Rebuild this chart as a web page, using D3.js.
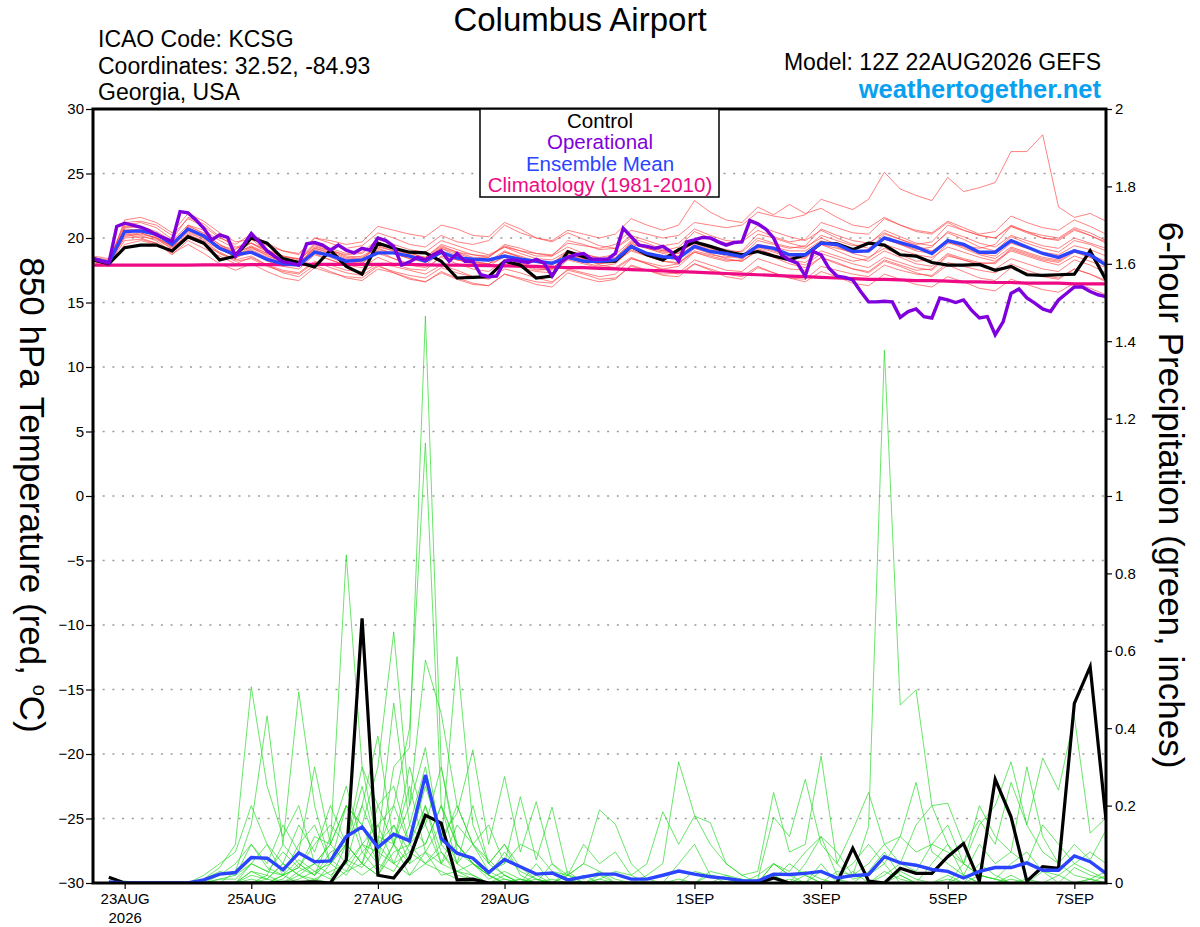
<!DOCTYPE html>
<html>
<head>
<meta charset="utf-8">
<script src="https://cdn.jsdelivr.net/npm/d3@7"></script>
<style>
body { margin: 0; background: #fff; }
text { font-family: "Liberation Sans", Arial, Helvetica, sans-serif; }
</style>
</head>
<body>
<div id="chart"></div>
<script>
// run start and time steps
var runStart = Date.UTC(2026, 7, 22, 12);
var step6 = 6 * 3600 * 1000;
var step3 = 3 * 3600 * 1000;

var dateTicks = [Date.UTC(2026,7,23), Date.UTC(2026,7,25), Date.UTC(2026,7,27), Date.UTC(2026,7,29),
                 Date.UTC(2026,8,1), Date.UTC(2026,8,3), Date.UTC(2026,8,5), Date.UTC(2026,8,7)];
var tempTicks = [-30, -25, -20, -15, -10, -5, 0, 5, 10, 15, 20, 25, 30];
var gridTicks = [-25, -20, -15, -10, -5, 0, 5, 10, 15, 20, 25];
var precipTicks = [0, 0.2, 0.4, 0.6, 0.8, 1, 1.2, 1.4, 1.6, 1.8, 2];

// 850 hPa temperature, 6-hourly from 12Z 22AUG
var controlTemp = [18.3,18.0,19.25,19.45,19.45,19.0,20.1,19.6,18.3,18.6,
  20.0,19.6,18.4,18.1,17.75,19.05,17.8,17.2,19.6,19.2,
  18.9,18.85,18.2,16.9,16.95,17.0,18.2,17.9,16.9,17.05,
  18.95,18.55,18.2,18.2,19.35,18.7,18.3,19.1,19.7,19.35,
  18.95,18.7,18.95,18.6,18.3,18.7,19.6,19.55,19.1,19.6,
  19.45,18.7,18.6,18.1,17.9,17.9,17.95,17.5,17.8,17.15,
  17.1,17.15,17.2,19.0,16.75];

var meanTemp = [18.4,18.1,20.5,20.55,20.3,19.5,20.7,20.15,19.2,18.7,
  18.9,18.35,18.0,17.9,18.9,18.65,18.2,18.3,18.85,18.85,
  18.6,18.2,18.9,18.45,18.35,18.3,18.6,18.35,18.2,18.05,
  18.5,18.2,18.2,18.3,19.35,18.8,18.55,18.45,19.35,18.95,
  18.8,18.55,19.4,19.2,18.7,18.7,19.6,19.5,18.95,19.0,
  20.0,19.65,19.3,18.8,19.8,19.5,18.9,18.9,19.8,19.3,
  18.8,18.5,19.0,18.7,17.9];

var climTemp = [17.9,17.9,17.9,17.9,17.9,17.9,17.9,17.92,17.92,17.92,
  17.94,17.94,17.94,17.95,17.95,17.95,17.95,17.95,17.95,17.95,
  17.95,17.92,17.9,17.9,17.88,17.86,17.84,17.82,17.8,17.75,
  17.7,17.7,17.65,17.6,17.55,17.5,17.45,17.4,17.35,17.3,
  17.25,17.2,17.15,17.1,17.05,17.0,16.95,16.9,16.85,16.8,
  16.8,16.75,16.7,16.7,16.65,16.6,16.6,16.55,16.55,16.5,
  16.5,16.5,16.45,16.45,16.45];

// operational run, 3-hourly
var operTemp = [18.4,18.2,18.05,20.9,21.15,21.0,20.85,20.6,20.25,20.0,
  19.75,22.05,21.95,21.4,20.75,19.85,20.25,20.05,18.6,19.45,
  20.35,19.7,19.0,18.55,18.15,18.05,17.9,19.55,19.65,19.45,
  19.05,19.45,19.05,18.85,19.2,19.05,20.0,19.8,19.35,17.9,
  18.15,18.5,18.3,18.7,19.0,18.2,18.8,18.2,18.2,17.15,
  17.0,17.05,18.2,18.3,18.2,18.1,18.35,18.05,17.05,18.05,
  18.5,18.7,18.8,18.35,18.35,18.35,18.8,20.75,20.1,19.45,
  19.35,19.2,19.35,18.95,18.2,19.7,19.85,20.05,20.0,19.7,
  19.45,19.65,19.7,21.35,21.1,20.7,20.0,18.7,18.3,18.05,
  17.05,18.95,18.7,17.65,17.05,16.95,16.75,15.85,15.05,15.05,
  15.1,15.05,13.85,14.3,14.5,13.9,13.8,15.35,15.2,15.0,
  15.2,14.4,13.8,13.9,12.5,13.5,15.7,16.05,15.35,14.95,
  14.5,14.3,15.2,15.7,16.2,16.2,15.85,15.6,15.45];

// ensemble members, 850 hPa temperature
var tempMembers = [
  [18.3,18.0,20.8,20.9,20.5,19.8,21.0,20.3,19.5,18.9,19.3,18.6,18.2,18.0,19.2,18.9,18.4,18.6,19.3,19.0,18.8,18.5,19.4,18.9,18.7,18.6,19.3,19.0,18.8,18.7,19.6,19.4,19.2,19.5,20.6,20.3,20.0,20.2,21.2,21.0,20.8,21.0,22.0,21.7,21.5,21.8,23.0,22.6,22.2,23.0,25.1,23.8,23.3,22.9,24.7,23.6,23.9,24.3,26.7,26.7,28.0,22.4,21.6,21.9,21.3],
  [18.5,18.2,21.2,21.3,21.0,20.2,21.5,20.9,20.0,19.5,20.3,19.6,19.0,18.7,20.0,19.6,19.2,19.4,20.4,20.0,19.5,19.3,20.2,19.7,19.5,19.8,21.0,20.4,20.0,19.8,20.6,20.3,20.0,20.3,21.5,21.0,20.6,21.0,22.9,22.0,21.4,21.2,22.4,21.8,22.6,21.9,22.3,21.6,21.0,20.8,21.6,21.0,20.5,20.3,21.2,20.6,20.2,20.0,21.0,20.5,20.2,20.0,20.8,20.4,19.8],
  [18.2,17.9,19.8,19.9,19.6,19.0,20.0,19.5,18.8,18.2,18.4,17.8,17.4,17.2,18.1,17.9,17.5,17.4,18.0,17.8,17.5,17.2,17.9,17.5,17.0,16.8,17.6,17.3,16.9,16.6,17.5,17.2,16.8,16.9,17.8,17.5,17.1,17.0,18.0,17.6,17.2,17.0,17.8,17.3,16.9,16.6,17.4,17.0,16.5,16.3,17.2,16.8,16.4,16.2,17.0,16.6,16.1,15.9,16.8,16.4,16.0,15.8,16.5,16.1,15.6],
  [18.4,18.0,21.4,21.6,21.2,20.4,21.9,21.3,20.4,19.7,19.9,19.0,18.6,18.3,19.5,19.1,18.6,18.5,19.2,18.8,18.4,18.1,18.8,18.3,18.1,18.0,18.9,18.6,18.2,18.0,19.0,18.7,18.5,18.7,19.8,19.3,19.0,18.8,19.7,19.4,19.1,18.9,20.0,19.6,19.3,19.2,20.2,19.8,19.4,19.5,20.6,20.1,19.6,19.4,20.4,19.9,19.3,19.0,20.1,19.6,19.2,18.9,19.8,19.5,19.0],
  [18.3,18.1,20.0,20.1,19.9,19.2,20.3,19.7,18.9,18.3,18.6,17.9,17.3,17.0,17.9,17.4,16.9,16.7,17.6,17.3,16.9,16.6,17.4,16.9,16.5,16.3,17.2,16.8,16.4,16.2,17.3,16.9,16.6,16.8,17.9,17.5,17.2,17.3,18.3,17.9,17.5,17.4,18.4,18.0,17.6,17.5,18.5,18.1,17.6,17.3,18.2,17.8,17.3,17.0,17.9,17.4,16.9,16.7,17.7,17.3,17.0,16.8,17.6,17.2,16.7],
  [18.5,18.3,20.7,20.6,20.1,19.3,20.2,19.8,19.1,18.6,19.3,18.8,18.3,18.0,19.0,18.5,18.0,18.2,19.6,19.2,18.9,18.4,19.2,18.6,18.2,18.0,18.5,18.0,17.6,17.5,18.4,18.1,17.8,18.0,19.1,18.6,18.2,18.0,19.0,18.7,18.5,18.6,19.8,19.5,19.2,19.4,20.7,20.2,19.8,19.6,20.4,19.9,19.4,19.0,19.8,19.3,18.8,18.6,19.6,19.2,18.9,18.7,19.4,19.1,18.6],
  [18.2,18.0,20.2,20.4,20.0,19.1,21.0,20.6,19.8,19.2,19.6,19.0,18.5,18.4,19.6,19.2,18.8,18.9,19.9,19.5,19.1,18.9,19.8,19.4,19.0,18.7,19.3,18.8,18.4,18.3,19.0,18.6,18.3,18.2,19.0,18.6,18.2,18.1,18.9,18.5,18.2,18.3,19.5,19.3,19.0,19.0,19.8,19.3,18.8,18.5,19.2,18.7,18.2,18.3,19.6,19.4,19.2,19.5,20.9,20.5,20.0,19.8,20.6,20.2,19.7],
  [18.1,17.8,19.5,19.8,19.5,18.8,19.5,18.8,18.0,17.5,18.0,17.4,16.9,16.7,17.7,17.3,17.0,16.9,17.8,17.4,17.1,16.9,17.7,17.3,17.0,17.0,18.0,17.7,17.4,17.3,18.3,18.0,17.7,17.6,18.4,18.0,17.6,17.8,18.9,18.6,18.3,18.2,19.1,18.7,18.3,18.1,19.0,18.6,18.2,18.4,19.5,19.1,18.7,18.5,19.3,18.9,18.5,18.2,19.0,18.6,18.2,17.9,18.6,18.2,17.7],
  [18.4,18.2,20.4,20.6,20.3,19.6,20.5,20.0,19.4,19.1,19.9,19.4,19.0,18.8,20.0,19.8,19.5,19.7,20.9,20.6,20.3,20.1,21.0,20.7,20.2,20.1,21.2,20.7,20.0,19.7,20.4,19.9,19.4,19.2,20.0,19.6,19.1,18.9,19.6,19.2,18.8,18.5,19.3,18.9,18.5,18.4,19.5,19.2,18.9,19.1,20.3,19.9,19.5,19.7,21.0,20.6,20.2,20.0,20.9,20.4,20.0,19.9,20.7,20.2,19.6],
  [18.3,18.1,20.9,20.8,20.2,19.5,20.6,20.1,19.2,18.5,18.9,18.2,17.8,17.6,18.7,18.3,17.9,17.7,18.5,18.0,17.6,17.5,18.6,18.3,18.0,17.8,18.6,18.1,17.7,17.6,18.7,18.4,18.0,18.1,19.2,18.8,18.5,18.3,19.4,19.0,18.6,18.4,19.2,18.7,18.2,17.9,18.8,18.4,18.0,17.7,18.5,18.1,17.7,17.5,18.6,18.3,17.9,17.6,18.4,18.0,17.6,17.4,18.3,17.9,17.3],
  [18.6,18.4,21.0,21.2,20.8,19.9,21.6,21.1,20.1,19.3,19.6,18.9,18.4,18.2,19.4,19.0,18.5,18.3,19.0,18.4,17.9,17.7,18.5,18.0,17.6,17.4,18.3,17.9,17.5,17.6,18.8,18.5,18.2,18.4,19.7,19.4,19.0,19.3,20.5,20.0,19.6,19.8,21.0,20.5,20.1,19.8,20.6,20.0,19.5,19.2,20.0,19.5,19.0,18.8,19.7,19.2,18.7,18.4,19.3,18.9,18.5,18.3,19.1,18.7,18.2],
  [18.2,17.9,20.1,20.3,20.0,19.4,20.4,19.9,19.3,18.9,19.6,19.1,18.6,18.4,19.2,18.8,18.3,18.1,18.8,18.4,18.0,17.9,18.9,18.5,18.1,18.0,18.9,18.5,18.1,18.0,18.9,18.4,17.9,17.7,18.5,18.0,17.5,17.2,18.0,17.5,17.0,16.8,17.7,17.3,16.9,16.8,17.8,17.5,17.2,17.0,17.9,17.5,17.2,17.1,18.1,17.8,17.5,17.3,18.0,17.5,17.1,16.9,17.6,17.2,16.6],
  [18.4,18.1,20.6,20.4,20.0,19.3,20.9,20.4,19.5,18.7,19.1,18.5,18.1,18.0,19.3,19.0,18.7,18.8,19.7,19.2,18.7,18.4,19.3,18.9,18.5,18.5,19.5,19.2,18.8,18.6,19.3,18.8,18.4,18.5,19.6,19.2,18.8,18.6,19.5,19.1,18.8,19.0,20.3,20.0,19.6,19.3,20.0,19.5,19.0,18.9,19.9,19.5,19.1,19.3,20.5,20.1,19.6,19.3,20.2,19.8,19.4,19.2,20.0,19.6,19.2],
  [18.3,18.0,20.3,20.0,19.6,18.7,19.8,19.2,18.6,18.0,18.5,17.9,17.5,17.3,18.2,17.7,17.3,17.1,17.9,17.3,16.8,16.6,17.3,16.8,16.4,16.3,17.2,16.9,16.6,16.5,17.6,17.3,17.0,17.2,18.4,18.1,17.8,18.0,19.2,18.8,18.4,18.2,19.0,18.5,18.0,17.7,18.5,18.0,17.6,17.4,18.3,17.9,17.5,17.6,18.7,18.3,18.0,18.1,19.2,18.8,18.4,18.2,19.0,18.5,18.0],
  [18.5,18.2,20.5,20.7,20.4,19.7,20.8,20.2,19.3,18.8,19.4,18.8,18.3,18.1,19.1,18.7,18.3,18.4,19.4,19.0,18.6,18.5,19.5,19.1,18.7,18.5,19.4,19.0,18.6,18.6,19.8,19.5,19.1,19.2,20.2,19.8,19.4,19.6,20.7,20.2,19.8,19.7,20.6,20.1,19.7,19.9,21.2,20.8,20.4,20.3,21.5,21.0,20.6,20.4,21.3,20.8,20.3,20.5,21.7,21.2,20.8,20.6,21.4,20.9,20.3],
  [18.3,18.0,20.4,20.2,19.8,18.9,20.1,19.6,18.8,18.4,19.2,18.7,18.1,17.8,18.8,18.3,17.9,18.0,19.1,18.8,18.4,18.2,19.2,18.8,18.4,18.2,19.0,18.5,18.1,17.9,18.7,18.3,18.0,18.3,19.5,19.2,18.9,18.8,19.7,19.3,18.9,18.6,19.4,19.0,18.6,18.5,19.5,19.0,18.5,18.2,19.0,18.5,18.0,17.8,18.8,18.4,18.1,18.0,19.1,18.7,18.3,18.1,18.9,18.5,17.9]
];

// 6-hour precipitation (inches), valid 18Z 22AUG onward
var controlPrecip = [0.015,0,0,0,0,0,0,0,0,0,0,0.002,0.002,0.003,0,0.06,
  0.684,0.02,0.013,0.065,0.175,0.155,0.008,0.01,0,0,0,0,0,0,0,0,
  0,0,0,0,0,0,0,0,0,0,0.013,0,0,0,0,0.09,
  0.005,0,0.038,0.025,0.025,0.068,0.102,0.005,0.268,0.171,0.005,0.042,0.038,0.464,0.559,0.163];

var meanPrecip = [0.003,0,0,0,0,0,0.008,0.023,0.027,0.066,0.064,0.034,0.078,0.055,0.057,0.12,
  0.145,0.092,0.126,0.109,0.279,0.115,0.077,0.064,0.027,0.061,0.042,0.023,0.026,0.008,0.016,0.023,
  0.023,0.01,0.01,0.02,0.031,0.023,0.016,0.012,0.006,0.005,0.023,0.022,0.025,0.03,0.013,0.019,
  0.022,0.068,0.052,0.046,0.035,0.03,0.013,0.03,0.04,0.04,0.052,0.033,0.033,0.07,0.055,0.025];

var precipMembers = [
  [0,0,0,0,0,0,0,0.01, 0.02,0.05,0.03,0.08,0.04,0.12,0.1,0.2, 0.15,0.05,0.3,0.35,1.465,0.3,0.08,0.05, 0.02,0,0.01,0,0,0,0,0, 0,0,0,0,0.01,0,0,0, 0,0,0.02,0,0,0.05,0,0, 0,0,0,0,0,0,0,0, 0,0,0,0,0.02,0.05,0.03,0.01],
  [0,0,0,0,0,0,0,0, 0,0.03,0.01,0.05,0.02,0.01,0,0.06, 0.04,0.1,0.05,0.02,0.08,0.15,0.05,0.02, 0,0,0,0.01,0,0,0,0, 0,0,0,0,0,0,0,0, 0,0,0,0,0.05,0.12,0.08,0.02, 0.146,1.377,0.46,0.499,0.2,0.1,0.05,0.02, 0.01,0.05,0.08,0.03,0.02,0,0.01,0.03],
  [0,0,0,0,0,0,0,0.02, 0.05,0.1,0.04,0.02,0.06,0.03,0.01,0.1, 0.25,0.08,0.2,0.4,1.137,0.2,0.1,0.05, 0.03,0.01,0,0,0,0,0.02,0, 0,0,0,0,0,0,0,0, 0,0,0,0,0,0.03,0.01,0, 0,0,0.02,0,0,0,0,0.05, 0.02,0,0.01,0,0,0.04,0.02,0.01],
  [0,0,0,0,0,0,0.01,0.03, 0.02,0.1,0.05,0.15,0.08,0.3,0.1,0.848, 0.3,0.1,0.15,0.05,0.2,0.08,0.03,0.01, 0,0.02,0,0,0,0,0,0, 0,0,0,0,0,0,0.02,0.01, 0,0,0,0.01,0,0,0,0, 0,0.03,0.01,0,0,0,0,0, 0,0,0,0,0,0,0,0],
  [0,0,0,0,0,0,0.01,0.04, 0.1,0.507,0.25,0.12,0.2,0.05,0.1,0.05, 0.2,0.1,0.465,0.15,0.3,0.1,0.05,0.2, 0.05,0.1,0.02,0,0.05,0.01,0,0, 0,0,0,0,0,0,0,0, 0,0,0.05,0.02,0,0,0,0, 0,0,0,0,0,0,0,0, 0,0,0,0,0,0,0,0.02],
  [0,0,0,0,0,0,0,0, 0.03,0.15,0.432,0.1,0.494,0.2,0.05,0.1, 0.05,0.2,0.1,0.3,0.15,0.05,0.1,0.05, 0.02,0,0.01,0,0,0.03,0,0.01, 0,0,0,0,0,0,0,0, 0,0,0,0,0,0,0,0, 0.03,0.08,0.02,0,0,0,0.02,0, 0,0.02,0,0,0,0,0.01,0],
  [0,0,0,0,0,0,0,0, 0,0.02,0.01,0.05,0.02,0.05,0.1,0.2, 0.15,0.3,0.649,0.2,0.35,0.1,0.585,0.15, 0.05,0.1,0.04,0.01,0,0.02,0,0, 0,0,0,0,0,0,0,0, 0,0,0,0,0.02,0,0,0, 0,0,0,0,0.05,0.1,0.02,0, 0,0,0,0.03,0,0,0,0],
  [0,0,0,0,0,0,0,0.01, 0.01,0.05,0.1,0.02,0.04,0.1,0.15,0.1, 0.2,0.38,0.1,0.2,0.576,0.438,0.2,0.1, 0.06,0.02,0,0.05,0,0,0,0.02, 0,0,0,0,0,0,0.03,0.02, 0,0,0,0,0,0,0,0, 0,0,0,0,0,0,0,0, 0,0,0,0,0,0,0,0],
  [0,0,0,0,0,0,0,0, 0,0,0,0.01,0.05,0.02,0.08,0.1, 0.05,0.15,0.2,0.1,0.25,0.12,0.18,0.344, 0.1,0.275,0.08,0.21,0.05,0.02,0.01,0.03, 0,0,0,0,0,0,0,0, 0,0,0,0,0,0,0,0, 0,0,0,0,0,0,0,0, 0,0.01,0,0,0,0,0,0],
  [0,0,0,0,0,0,0,0, 0,0,0.02,0,0.03,0.05,0.02,0.05, 0.1,0.08,0.05,0.15,0.1,0.2,0.05,0.1, 0.03,0.05,0.223,0.06,0.196,0.02,0.05,0.189, 0.152,0.05,0.01,0,0,0,0,0, 0,0,0,0,0,0,0,0, 0,0,0,0,0,0.02,0,0, 0,0,0,0,0,0,0,0],
  [0,0,0,0,0,0,0,0, 0,0,0,0,0,0,0,0.03, 0.05,0.02,0.1,0.05,0.08,0.02,0.03,0.05, 0.02,0.08,0.03,0.01,0,0.02,0.05,0.03, 0.01,0,0.02,0.05,0.313,0.176,0.1,0.05, 0.02,0,0.01,0.05,0.02,0,0,0.03, 0,0,0,0,0,0,0,0, 0,0,0,0,0,0,0,0],
  [0,0,0,0,0,0,0,0, 0,0,0,0.02,0,0.01,0.03,0.05, 0.02,0.05,0.03,0.1,0.05,0.08,0.02,0.01, 0,0.01,0,0,0,0,0,0.01, 0.03,0.02,0.05,0.184,0.1,0.173,0.156,0.05, 0.02,0.03,0.234,0.08,0.1,0.328,0.05,0.01, 0.02,0.05,0,0,0,0,0,0, 0,0,0,0,0,0,0,0],
  [0,0,0,0,0,0,0,0, 0,0,0,0,0.01,0.03,0.05,0.02, 0.08,0.03,0.1,0.02,0.05,0.03,0.01,0, 0,0,0,0.02,0,0,0,0, 0,0,0,0,0,0.03,0.02,0, 0,0.01,0.17,0.12,0.268,0.1,0.05,0.137, 0.234,0.1,0.12,0.26,0.08,0.05,0.02,0.1, 0.05,0.08,0.3,0.12,0.05,0.02,0.01,0],
  [0,0,0,0,0,0,0,0, 0,0,0.01,0,0.02,0,0.05,0.1, 0.05,0.02,0.08,0.1,0.2,0.05,0.03,0.02, 0,0,0,0,0,0,0,0, 0,0,0,0,0,0,0,0.02, 0.01,0,0.05,0.02,0.03,0.01,0,0, 0,0.02,0.05,0.03,0.1,0.08,0.05,0.15, 0.2,0.313,0.15,0.323,0.24,0.43,0.129,0.168],
  [0,0,0,0,0,0,0,0, 0,0.01,0,0.02,0.04,0.02,0.06,0.03, 0.1,0.15,0.05,0.08,0.1,0.2,0.1,0.05, 0.02,0,0,0,0.01,0,0,0, 0,0,0,0,0,0,0,0, 0,0,0,0,0,0,0.03,0.02, 0.05,0.1,0.05,0.15,0.2,0.206,0.1,0.163, 0.1,0.26,0.15,0.08,0.05,0.1,0.06,0.137],
  [0,0,0,0,0,0,0.02,0.05, 0.08,0.2,0.1,0.05,0.15,0.08,0.2,0.1, 0.3,0.2,0.25,0.1,0.15,0.3,0.1,0.05, 0.01,0.03,0.01,0,0,0,0,0, 0,0,0,0,0,0,0,0, 0,0,0,0,0,0,0,0, 0,0,0,0,0,0.01,0,0.02, 0.01,0,0,0,0,0,0,0],
  [0,0.005,0,0,0,0,0,0, 0,0.03,0.02,0.1,0.05,0.02,0.12,0.25, 0.1,0.05,0.15,0.08,0.05,0.1,0.2,0.1, 0.15,0.05,0.1,0.08,0.03,0.02,0.1,0.05, 0.08,0.02,0,0,0.05,0.1,0.02,0.01, 0,0,0,0,0,0,0,0, 0,0,0.03,0.01,0,0,0.05,0.02, 0.01,0,0,0,0,0,0,0],
  [0,0,0,0,0,0,0,0, 0,0.05,0.03,0.02,0.1,0.15,0.05,0.2, 0.08,0.12,0.1,0.25,0.08,0.05,0.15,0.1, 0.05,0.02,0,0,0,0,0,0, 0,0,0,0,0,0,0,0, 0,0.02,0.05,0.03,0.08,0.12,0.02,0.05, 0.1,0.05,0.12,0.08,0.1,0.15,0.05,0.2, 0.12,0.08,0.05,0.15,0.1,0.05,0.08,0.05]
];

var legendItems = ["Control", "Operational", "Ensemble Mean", "Climatology (1981-2010)"];
var legendColors = ["#000000", "#8000dd", "#2a44ff", "#ee0a85"];

var width = 1200, height = 927;
var margins = {top: 109, right: 94, bottom: 44, left: 93};
var plotRight = width - margins.right;
var plotBottom = height - margins.bottom;

var svg = d3.select('#chart').append('svg')
  .attr('width', width)
  .attr('height', height);

var x = d3.scaleUtc()
  .domain([new Date(runStart), new Date(runStart + 64 * step6)])
  .range([margins.left, plotRight]);
var yT = d3.scaleLinear().domain([-30, 30]).range([plotBottom, margins.top]);
var yP = d3.scaleLinear().domain([0, 2]).range([plotBottom, margins.top]);

function t6(i) { return new Date(runStart + i * step6); }
function t3(i) { return new Date(runStart + i * step3); }

svg.append('clipPath').attr('id', 'plotclip').append('rect')
  .attr('x', margins.left).attr('y', margins.top)
  .attr('width', plotRight - margins.left).attr('height', plotBottom - margins.top);

// dotted grid
svg.append('g').selectAll('line').data(gridTicks).enter().append('line')
  .attr('x1', margins.left).attr('x2', plotRight)
  .attr('y1', function(d) { return yT(d); })
  .attr('y2', function(d) { return yT(d); })
  .style('stroke', '#9a9a9a')
  .style('stroke-width', 1.3)
  .style('stroke-dasharray', '2,7.7');

var plot = svg.append('g').attr('clip-path', 'url(#plotclip)');

var line6 = d3.line().x(function(d, i) { return x(t6(i)); }).y(function(d) { return yT(d); });
var line3 = d3.line().x(function(d, i) { return x(t3(i)); }).y(function(d) { return yT(d); });
var lineP = d3.line().x(function(d, i) { return x(t6(i + 1)); }).y(function(d) { return yP(d); });

plot.selectAll('path.pm').data(precipMembers).enter().append('path')
  .attr('class', 'pm')
  .attr('d', lineP)
  .style('fill', 'none')
  .style('stroke', '#22d822')
  .style('stroke-width', 0.8)
  .style('stroke-opacity', 0.85);

plot.selectAll('path.tm').data(tempMembers).enter().append('path')
  .attr('class', 'tm')
  .attr('d', line6)
  .style('fill', 'none')
  .style('stroke', '#ff3a3a')
  .style('stroke-width', 0.8)
  .style('stroke-opacity', 0.8);

plot.append('path').attr('d', line6(climTemp))
  .style('fill', 'none').style('stroke', '#ee0a85').style('stroke-width', 3.2);

plot.append('path').attr('d', lineP(controlPrecip))
  .style('fill', 'none').style('stroke', '#000').style('stroke-width', 3.2);
plot.append('path').attr('d', lineP(meanPrecip))
  .style('fill', 'none').style('stroke', '#2a44ff').style('stroke-width', 3.4);

plot.append('path').attr('d', line6(controlTemp))
  .style('fill', 'none').style('stroke', '#000').style('stroke-width', 3.2);
plot.append('path').attr('d', line6(meanTemp))
  .style('fill', 'none').style('stroke', '#2a44ff').style('stroke-width', 3.4);
plot.append('path').attr('d', line3(operTemp))
  .style('fill', 'none').style('stroke', '#8000dd').style('stroke-width', 3.4);

// axes
var leftAxis = d3.axisLeft(yT).tickValues(tempTicks).tickSize(7).tickPadding(2);
var lguide = svg.append('g').attr('transform', 'translate(' + margins.left + ',0)');
leftAxis(lguide);

var rightAxis = d3.axisRight(yP).tickValues(precipTicks).tickSize(6).tickPadding(3)
  .tickFormat(d3.format('~g'));
var rguide = svg.append('g').attr('transform', 'translate(' + plotRight + ',0)');
rightAxis(rguide);

var fmt = d3.utcFormat('%-d%b');
var bottomAxis = d3.axisBottom(x).tickValues(dateTicks.map(function(d) { return new Date(d); }))
  .tickSize(6).tickPadding(4)
  .tickFormat(function(d) { return fmt(d).toUpperCase(); });
var bguide = svg.append('g').attr('transform', 'translate(0,' + plotBottom + ')');
bottomAxis(bguide);
var firstLabel = bguide.select('.tick text');
firstLabel.text(null);
firstLabel.append('tspan').attr('x', 0).text('23AUG');
firstLabel.append('tspan').attr('x', 0).attr('dy', '1.3em').text('2026');

[lguide, rguide, bguide].forEach(function(g) {
  g.select('.domain').remove();
  g.selectAll('line').style('stroke', '#000').style('stroke-width', 1.2);
  g.selectAll('text').style('font-size', '15px').style('fill', '#000')
    .style('font-family', '"Liberation Sans", Arial, sans-serif');
});

// frame
svg.append('rect')
  .attr('x', margins.left).attr('y', margins.top)
  .attr('width', plotRight - margins.left).attr('height', plotBottom - margins.top)
  .style('fill', 'none').style('stroke', '#000').style('stroke-width', 3);

// legend
var legend = svg.append('g');
legend.append('rect').attr('x', 480).attr('y', margins.top).attr('width', 239).attr('height', 88)
  .style('fill', '#fff').style('stroke', '#000').style('stroke-width', 1.5);
legend.selectAll('text').data(legendItems).enter().append('text')
  .attr('x', 600)
  .attr('y', function(d, i) { return 128 + i * 21.3; })
  .attr('text-anchor', 'middle')
  .style('font-size', '20.5px')
  .style('fill', function(d, i) { return legendColors[i]; })
  .text(function(d) { return d; });

// titles
svg.append('text').attr('x', 580).attr('y', 31).attr('text-anchor', 'middle')
  .style('font-size', '33px').text('Columbus Airport');
var info = ['ICAO Code: KCSG', 'Coordinates: 32.52, -84.93', 'Georgia, USA'];
svg.selectAll('text.info').data(info).enter().append('text')
  .attr('class', 'info')
  .attr('x', 98).attr('y', function(d, i) { return 47 + i * 26.5; })
  .style('font-size', '23px').text(function(d) { return d; });
svg.append('text').attr('x', 1101).attr('y', 70).attr('text-anchor', 'end')
  .style('font-size', '23px').text('Model: 12Z 22AUG2026 GEFS');
svg.append('text').attr('x', 1101).attr('y', 98).attr('text-anchor', 'end')
  .style('font-size', '25.5px').style('font-weight', 'bold').style('fill', '#0aa0f0')
  .text('weathertogether.net');

var ltitle = svg.append('text')
  .attr('transform', 'translate(20,495) rotate(90)')
  .attr('text-anchor', 'middle')
  .style('font-size', '35px');
ltitle.append('tspan').text('850 hPa Temperature (red, ');
ltitle.append('tspan').text('o').style('font-size', '20px').attr('dy', '-13');
ltitle.append('tspan').text('C)').attr('dy', '13');

svg.append('text')
  .attr('transform', 'translate(1159,495) rotate(90)')
  .attr('text-anchor', 'middle')
  .style('font-size', '35px')
  .text('6-hour Precipitation (green, inches)');
</script>
</body>
</html>
